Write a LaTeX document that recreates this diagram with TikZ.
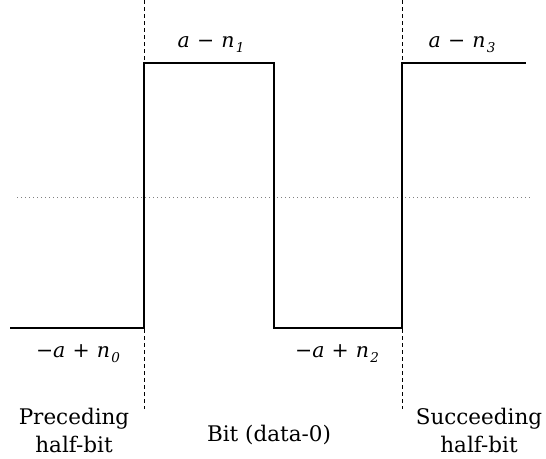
\documentclass[tikz,border=0pt]{standalone}
\usepackage{fontspec}
\setmainfont{DejaVu Serif}
\begin{document}
\begin{tikzpicture}[x=1pt,y=-1pt,
  signal/.style={line width=2.3pt,line join=miter},
  guide/.style={line width=0.8pt,dash pattern=on 4pt off 3pt},
  midline/.style={line width=0.8pt,gray,dash pattern=on 1.2pt off 2.8pt},
  lvl/.style={font=\fontsize{20.5}{22}\selectfont,anchor=base,inner sep=0pt},
  caption text/.style={font=\fontsize{21.5}{28}\selectfont,align=center,anchor=base,inner sep=0pt}]
\useasboundingbox (0,0) rectangle (546,458);
% corners of the waveform
\coordinate (s0) at (10,328);
\coordinate (r1) at (144,328);
\coordinate (h1) at (144,63);
\coordinate (f1) at (274,63);
\coordinate (l2) at (274,328);
\coordinate (r3) at (402,328);
\coordinate (h3) at (402,63);
\coordinate (e3) at (526,63);
% half-bit boundaries
\coordinate (t1) at (144,0);
\coordinate (b1) at (144,409);
\coordinate (t3) at (402,0);
\coordinate (b3) at (402,409);
% zero level
\coordinate (ml) at (17,197);
\coordinate (mr) at (530,197);
\draw[midline] (ml) -- (mr);
\draw[guide] (t1) -- (b1);
\draw[guide] (t3) -- (b3);
\draw[signal] (s0) -- (r1) -- (h1) -- (f1) -- (l2) -- (r3) -- (h3) -- (e3);
% level labels
\newcommand{\sub}[1]{\hspace{0.06em}\raisebox{-0.55ex}{\fontsize{13.5}{14}\selectfont\itshape #1}}
\newcommand{\op}[1]{\hspace{0.03em}#1\hspace{0.03em}}
\node[lvl] (n1) at (211,47) {\textit{a} \op{−} \textit{n}\sub{1}};
\node[lvl] (n3) at (462,47) {\textit{a} \op{−} \textit{n}\sub{3}};
\node[lvl] (n0) at (78,357) {−\textit{a} \op{+} \textit{n}\sub{0}};
\node[lvl] (n2) at (337,357) {−\textit{a} \op{+} \textit{n}\sub{2}};
% interval captions
\node[caption text] (pre) at (74,452) {Preceding\\half-bit};
\node[caption text] (bit) at (269,441) {Bit (data-0)};
\node[caption text] (suc) at (479,452) {Succeeding\\half-bit};
\end{tikzpicture}
\end{document}
